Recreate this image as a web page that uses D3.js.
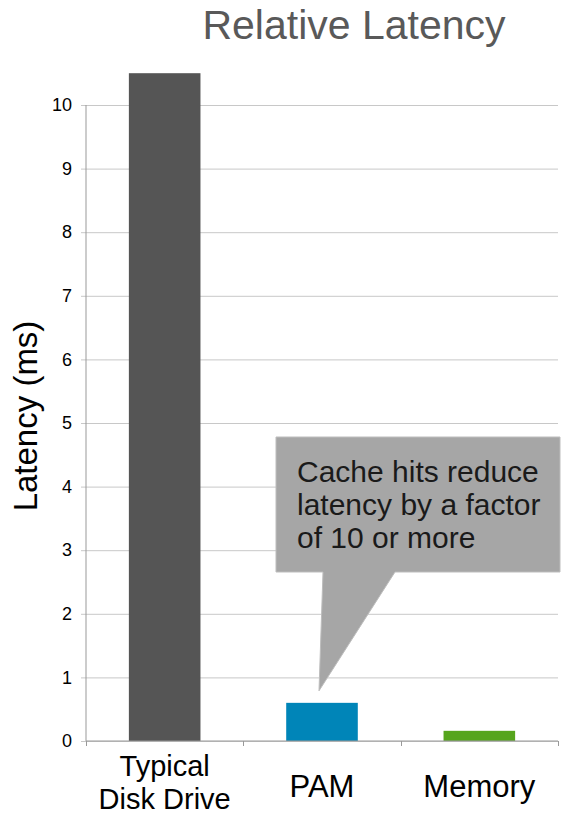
<!DOCTYPE html>
<html>
<head>
<meta charset="utf-8">
<script src="https://cdn.jsdelivr.net/npm/d3@7"></script>
<style>
  body { margin: 0; background: #fff; }
  svg text { font-family: Arial, "Liberation Sans", Helvetica, sans-serif; }
</style>
</head>
<body>
<svg width="565" height="816"></svg>
<script>
(function (d3) {
  'use strict';

  const categories = [['Typical', 'Disk Drive'], ['PAM'], ['Memory']];
  const latency = [10.5, 0.6, 0.16];
  const barColors = ['#555555', '#0085b8', '#56a51d'];
  const yTicks = [0, 1, 2, 3, 4, 5, 6, 7, 8, 9, 10];
  const calloutLines = ['Cache hits reduce', 'latency by a factor', 'of 10 or more'];

  const svg = d3.select('svg');
  const margin = {top: 105, right: 6, bottom: 75, left: 86};
  const width = +svg.attr('width');
  const height = +svg.attr('height');
  const innerWidth = width - margin.left - margin.right;
  const innerHeight = height - margin.top - margin.bottom;

  const keys = categories.map(d => d.join(' '));

  const xScale = d3.scaleBand()
      .domain(keys)
      .range([0, innerWidth - 1])
      .paddingInner(0.545)
      .paddingOuter(0.2725);

  const yScale = d3.scaleLinear()
      .domain([0, 10])
      .range([innerHeight, 0]);

  const g = svg.append('g')
      .attr('transform', `translate(${margin.left},${margin.top})`);

  // grid + y axis
  const yAxis = d3.axisLeft(yScale)
      .tickValues(yTicks)
      .tickSize(-innerWidth + 1)
      .tickPadding(14)
      .tickFormat(d3.format('d'));
  const yAxisG = g.append('g').call(yAxis)
      .attr('font-size', null)
      .attr('font-family', null);
  yAxisG.selectAll('.tick line')
      .attr('stroke', '#c8c8c8')
      .attr('x1', -5);
  yAxisG.selectAll('.tick text')
      .style('font-size', '18px')
      .attr('fill', '#000');
  yAxisG.select('.domain').remove();
  g.append('line')
      .attr('x1', 0).attr('x2', 0)
      .attr('y1', 0).attr('y2', innerHeight)
      .attr('stroke', '#999');

  // bars
  g.selectAll('rect.bar').data(latency)
    .enter().append('rect')
      .attr('class', 'bar')
      .attr('x', (d, i) => xScale(keys[i]))
      .attr('width', xScale.bandwidth())
      .attr('y', d => yScale(d))
      .attr('height', d => innerHeight - yScale(d))
      .attr('fill', (d, i) => barColors[i]);

  // x axis
  const xAxisG = g.append('g')
      .attr('transform', `translate(0,${innerHeight})`);
  xAxisG.append('line')
      .attr('x1', 0).attr('x2', innerWidth - 1)
      .attr('stroke', '#999');
  xAxisG.selectAll('line.tk').data(d3.range(keys.length + 1))
    .enter().append('line')
      .attr('class', 'tk')
      .attr('x1', i => Math.round(i * (innerWidth - 1) / keys.length) + 0.5)
      .attr('x2', i => Math.round(i * (innerWidth - 1) / keys.length) + 0.5)
      .attr('y1', 0).attr('y2', 5)
      .attr('stroke', '#999');

  const labelG = xAxisG.selectAll('text.cat').data(categories)
    .enter().append('text')
      .attr('class', 'cat')
      .attr('text-anchor', 'middle')
      .style('font-size', d => d.length > 1 ? '29px' : '31px')
      .attr('fill', '#000')
      .attr('x', (d, i) => xScale(keys[i]) + xScale.bandwidth() / 2)
      .attr('y', d => d.length > 1 ? 35 : 56);
  labelG.selectAll('tspan').data(d => d)
    .enter().append('tspan')
      .attr('x', function () { return d3.select(this.parentNode).attr('x'); })
      .attr('dy', (d, i) => i === 0 ? 0 : 33)
      .text(d => d);

  // y axis label
  svg.append('text')
      .attr('transform', `translate(37,${margin.top + innerHeight / 2 - 7}) rotate(-90)`)
      .attr('text-anchor', 'middle')
      .style('font-size', '33px')
      .attr('fill', '#000')
      .text('Latency (ms)');

  // title
  svg.append('text')
      .attr('x', 354)
      .attr('y', 39)
      .attr('text-anchor', 'middle')
      .style('font-size', '41px')
      .attr('fill', '#595959')
      .text('Relative Latency');

  // callout pointing at the PAM bar
  const pamX = xScale(keys[1]) + xScale.bandwidth() / 2;
  const tipY = yScale(latency[1]) - 12;
  const box = {x0: margin.left + 190, x1: width - 5, y0: 437, y1: 572};
  const callout = svg.append('g');
  callout.append('path')
      .attr('d', `M${box.x0},${box.y0}H${box.x1}V${box.y1}H${margin.left + 309}` +
                 `L${margin.left + pamX - 3},${margin.top + tipY}L${margin.left + 237},${box.y1}H${box.x0}Z`)
      .attr('fill', '#a6a6a6')
      .attr('stroke', '#bdbdbd')
      .attr('stroke-width', 1);
  callout.selectAll('text').data(calloutLines)
    .enter().append('text')
      .attr('x', box.x0 + 21)
      .attr('y', (d, i) => 482 + i * 33)
      .style('font-size', '30px')
      .attr('fill', '#1a1a1a')
      .text(d => d);

}(d3));
</script>
</body>
</html>
